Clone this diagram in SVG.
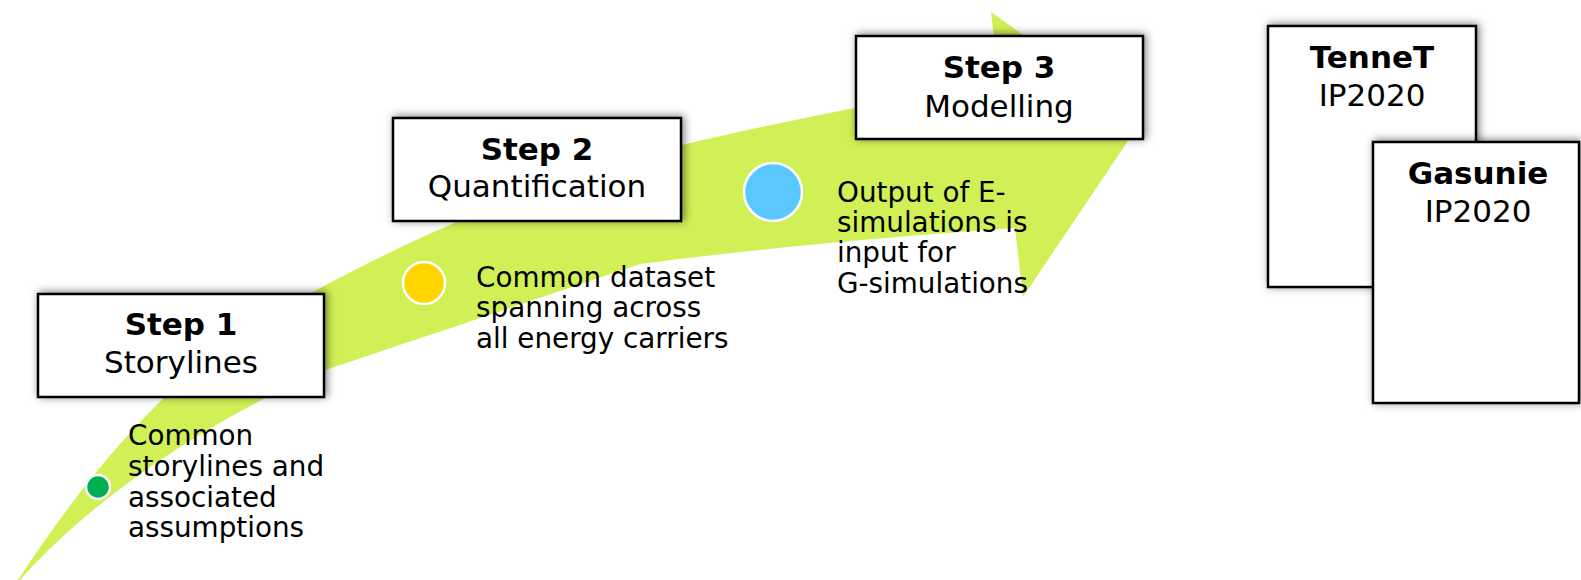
<svg xmlns="http://www.w3.org/2000/svg" width="1581" height="580" viewBox="0 0 1581 580">
  <style>
    .box { fill: #ffffff; stroke: #000000; stroke-width: 2.5; }
    .ttl { font-family: "DejaVu Sans", Verdana, sans-serif; font-size: 31px; font-weight: bold; fill: #000; text-anchor: middle; }
    .sub { font-family: "DejaVu Sans", Verdana, sans-serif; font-size: 31px; fill: #000; text-anchor: middle; }
    .body { font-family: "DejaVu Sans", Verdana, sans-serif; font-size: 27.8px; fill: #000; }
    .dot { stroke: #ffffff; stroke-width: 2.5; }
  </style>
  <defs>
    <filter id="shadow" x="-20%" y="-30%" width="140%" height="160%">
      <feDropShadow dx="2" dy="-1" stdDeviation="4" flood-color="#000" flood-opacity="0.5"/>
    </filter>
  </defs>
  <rect width="1581" height="580" fill="#ffffff"/>

  <g id="connectors">
    <path id="arrow" fill="#D0F055" d="M18,580 C90,470 185,355 300,299 C380,255 520,185 682,145 C780,122 900,98 999,82 L991,12 L1142,120 L1023,297 L1015,228 C900,236 760,248 640,264 C540,298 420,338 325,370 C220,415 100,490 20,580 Z"/>
  </g>

  <g id="dot1"><circle class="dot" cx="98" cy="487" r="12" fill="#00B050"/></g>
  <g id="dot2"><circle class="dot" cx="424" cy="283" r="21" fill="#FFD500"/></g>
  <g id="dot3"><circle class="dot" cx="773" cy="192" r="29" fill="#5AC8FF"/></g>

  <g id="step1">
    <rect class="box" x="38" y="294" width="286" height="103" filter="url(#shadow)"/>
    <text class="ttl" x="181" y="335">Step 1</text>
    <text class="sub" x="181" y="373">Storylines</text>
  </g>
  <g id="step2">
    <rect class="box" x="393" y="118" width="288" height="103" filter="url(#shadow)"/>
    <text class="ttl" x="537" y="160">Step 2</text>
    <text class="sub" x="537" y="197">Quantification</text>
  </g>
  <g id="step3">
    <rect class="box" x="856" y="36" width="287" height="103" filter="url(#shadow)"/>
    <text class="ttl" x="999" y="78">Step 3</text>
    <text class="sub" x="999" y="117">Modelling</text>
  </g>

  <g id="text1">
    <text class="body" x="128" y="445">Common</text>
    <text class="body" x="128" y="476">storylines and</text>
    <text class="body" x="128" y="507">associated</text>
    <text class="body" x="128" y="537">assumptions</text>
  </g>
  <g id="text2">
    <text class="body" x="476" y="287">Common dataset</text>
    <text class="body" x="476" y="317">spanning across</text>
    <text class="body" x="476" y="348">all energy carriers</text>
  </g>
  <g id="text3">
    <text class="body" x="837" y="202">Output of E-</text>
    <text class="body" x="837" y="232">simulations is</text>
    <text class="body" x="837" y="262">input for</text>
    <text class="body" x="837" y="293">G-simulations</text>
  </g>

  <g id="tennet">
    <rect class="box" x="1268" y="26" width="208" height="261" filter="url(#shadow)"/>
    <text class="ttl" x="1372" y="68">TenneT</text>
    <text class="sub" x="1372" y="106">IP2020</text>
  </g>
  <g id="gasunie">
    <rect class="box" x="1373" y="142" width="206" height="261" filter="url(#shadow)"/>
    <text class="ttl" x="1478" y="184">Gasunie</text>
    <text class="sub" x="1478" y="222">IP2020</text>
  </g>
</svg>
